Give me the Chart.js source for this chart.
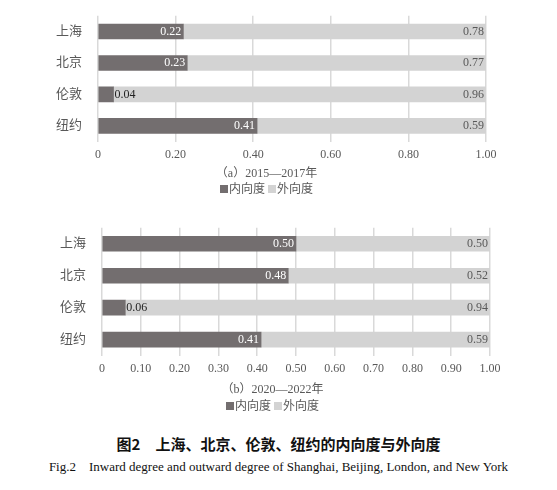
<!DOCTYPE html>
<html><head><meta charset="utf-8">
<script src="https://cdn.jsdelivr.net/npm/chart.js@4"></script>
<style>
body{margin:0;width:557px;height:490px;background:#fff;position:relative;font-family:"Liberation Serif","Noto Sans CJK SC",serif;color:#595959}
.box{position:absolute;left:0;width:557px}
.t{position:absolute;width:100%;text-align:center;font-size:12px}
.sq{display:inline-block;width:8px;height:8px;margin-right:1px}
</style></head><body>
<div class="box" style="top:0"><canvas id="c1" width="557" height="168"></canvas></div>
<div class="box" style="top:212px"><canvas id="c2" width="557" height="170"></canvas></div>
<div class="t" style="top:163px;left:-12px">（a）2015—2017年</div>
<div class="t" style="top:179px;left:-12px"><span class="sq" style="background:#736e6f"></span>内向度 <span class="sq" style="background:#d3d3d3"></span>外向度</div>
<div class="t" style="top:379px;left:-6px">（b）2020—2022年</div>
<div class="t" style="top:396px;left:-6px"><span class="sq" style="background:#736e6f"></span>内向度 <span class="sq" style="background:#d3d3d3"></span>外向度</div>
<div class="t" style="top:433px;font-size:15px;font-weight:bold;color:#111;font-family:'Noto Sans CJK SC',sans-serif">图2　上海、北京、伦敦、纽约的内向度与外向度</div>
<div class="t" style="top:456px;font-size:13px;color:#111">Fig.2　Inward degree and outward degree of Shanghai, Beijing, London, and New York</div>
<script>
const cities = ['上海', '北京', '伦敦', '纽约'];
const inward1 = [0.22, 0.23, 0.04, 0.41];
const outward1 = [0.78, 0.77, 0.96, 0.59];
const inward2 = [0.50, 0.48, 0.06, 0.41];
const outward2 = [0.50, 0.52, 0.94, 0.59];
const font = { family: '"Liberation Serif","Noto Sans CJK SC",serif', size: 12 };

// value labels at the right end of each segment
const labels = {
    id: 'labels',
    afterDatasetsDraw(chart) {
        const c = chart.ctx;
        c.save();
        c.font = '12px "Liberation Serif",serif';
        c.textBaseline = 'middle';
        chart.data.datasets.forEach((ds, i) => {
            chart.getDatasetMeta(i).data.forEach((bar, j) => {
                const txt = ds.data[j].toFixed(2);
                const w = bar.x - bar.base;
                if (i === 0 && w < 30) {
                    c.fillStyle = '#222'; c.textAlign = 'left';
                    c.fillText(txt, bar.x + 1, bar.y);
                } else {
                    c.fillStyle = i === 0 ? '#fff' : '#595959'; c.textAlign = 'right';
                    c.fillText(txt, bar.x - 2, bar.y);
                }
            });
        });
        c.restore();
    }
};

function makeChart(id, inward, outward, axisW, padR, padT, step) {
    new Chart(document.getElementById(id), {
        type: 'bar',
        data: {
            labels: cities,
            datasets: [
                { data: inward, backgroundColor: '#736e6f', barThickness: 15 },
                { data: outward, backgroundColor: '#d3d3d3', barThickness: 15 }
            ]
        },
        options: {
            indexAxis: 'y', responsive: false, animation: false,
            layout: { padding: { top: padT, right: padR } },
            plugins: { legend: { display: false }, tooltip: { enabled: false } },
            scales: {
                x: {
                    stacked: true, min: 0, max: 1,
                    ticks: { stepSize: step, padding: 6, color: '#595959', font,
                        callback: v => v === 0 ? '0' : v.toFixed(2) },
                    grid: { color: '#d9d9d9', lineWidth: 1.5, drawTicks: false },
                    border: { display: false }
                },
                y: {
                    stacked: true,
                    ticks: { color: '#595959', padding: 8, font: { ...font, size: 13 } },
                    grid: { display: false }, border: { display: false },
                    afterFit(s) { s.width = axisW; }
                }
            }
        },
        plugins: [labels]
    });
}
makeChart('c1', inward1, outward1, 98, 71, 10, 0.2);
makeChart('c2', inward2, outward2, 102, 67, 10, 0.1);
</script>
</body></html>
